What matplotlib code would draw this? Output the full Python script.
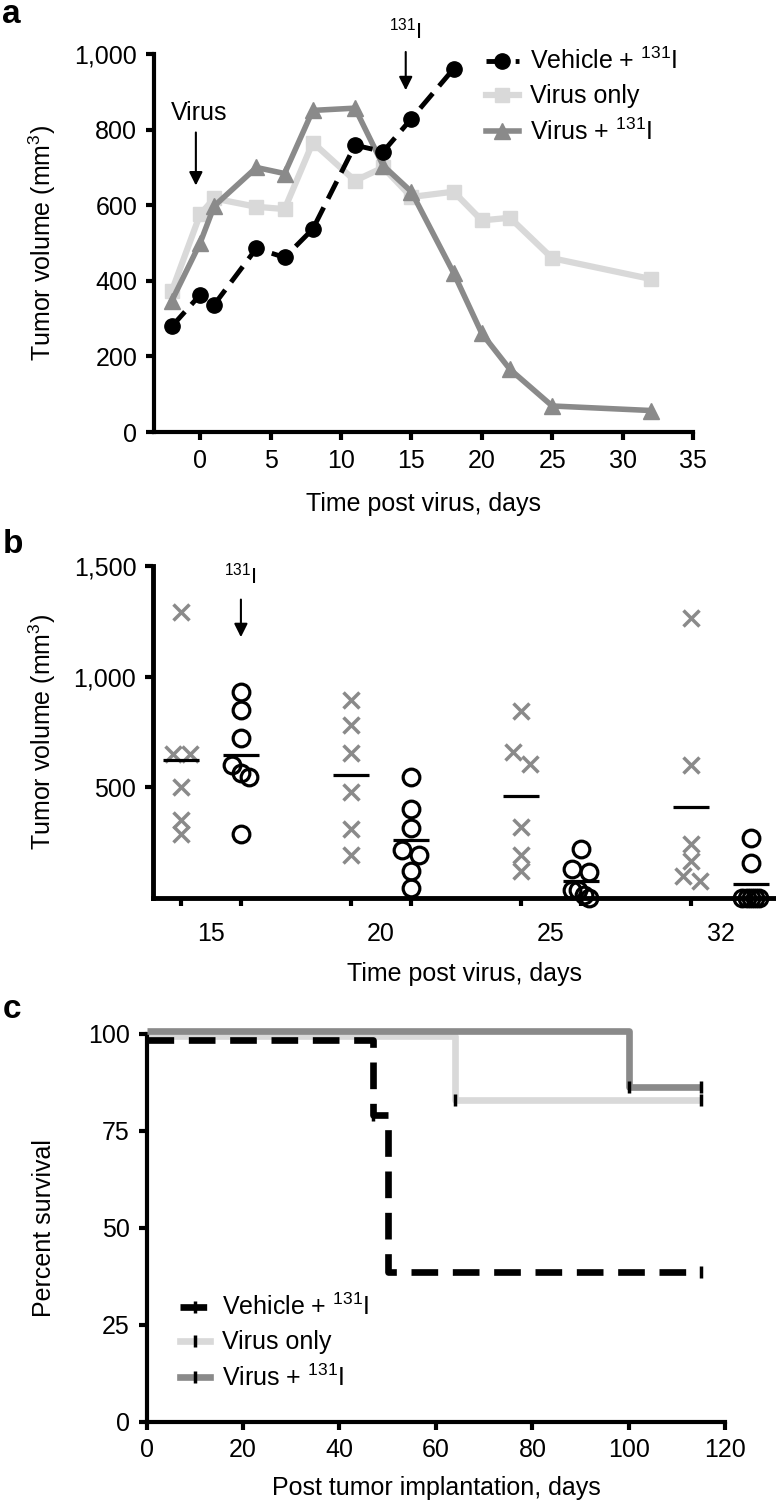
import numpy as np
import matplotlib
matplotlib.use('Agg')
import matplotlib.pyplot as plt
from matplotlib.ticker import FuncFormatter
from matplotlib.lines import Line2D

plt.rcParams['font.family'] = ['Liberation Sans', 'DejaVu Sans']
plt.rcParams['mathtext.fontset'] = 'custom'
plt.rcParams['mathtext.rm'] = 'Liberation Sans'
plt.rcParams['mathtext.it'] = 'Liberation Sans:italic'
plt.rcParams['font.size'] = 18

# ---- panel a: mean tumour volume over time
days_a = [-2, 0, 1, 4, 6, 8, 11, 13, 15, 18, 20, 22, 25, 32]
vehicle_a = [280, 363, 337, 486, 462, 537, 759, 742, 829, 961]
virus_only_a = [374, 576, 618, 596, 590, 766, 665, 700, 622, 636, 560, 567, 460, 405]
virus_i131_a = [348, 500, 598, 700, 684, 851, 857, 705, 636, 421, 261, 166, 69, 57]

# ---- panel b: individual tumours
days_b = ['15', '20', '25', '32']
virus_only_b = [[1291, 649, 649, 500, 351, 291],
                [896, 781, 657, 481, 313, 194],
                [845, 661, 606, 321, 196, 124],
                [1266, 599, 243, 169, 101, 79]]
virus_i131_b = [[933, 848, 724, 600, 567, 545, 291],
                [545, 400, 316, 216, 194, 124, 45],
                [221, 131, 116, 34, 34, 12, 0],
                [270, 160, 0, 0, 0, 0, 0]]

# ---- panel c: survival
vehicle_t = [0, 47, 50, 115]
vehicle_p = [98.5, 79.0, 38.6, 38.6]
vehicle_cens = [47, 115]
virus_only_t = [0, 64, 115]
virus_only_p = [99.6, 83.0, 83.0]
virus_only_cens = [64, 115]
virus_i131_t = [0, 100, 115]
virus_i131_p = [100.8, 86.2, 86.2]
virus_i131_cens = [100, 115]

BLACK = 'black'
LIGHT = '#d9d9d9'
MID = '#8a8a8a'
I131 = '$^{131}$I'


def style_axes(ax):
    for s in ['top', 'right']:
        ax.spines[s].set_visible(False)
    for s in ['left', 'bottom']:
        ax.spines[s].set_linewidth(3)
    ax.tick_params(direction='out', length=6, width=3, labelsize=18, pad=6)


def spread(vals, ygap=60, maxw=0.05):
    # group close values and fan them out a little around the column
    order = np.argsort(vals)[::-1]
    offs = np.zeros(len(vals))
    groups = [[order[0]]]
    for j in order[1:]:
        if abs(vals[groups[-1][-1]] - vals[j]) < ygap:
            groups[-1].append(j)
        else:
            groups.append([j])
    for g in groups:
        if len(g) > 1:
            for k, j in enumerate(g):
                offs[j] = np.linspace(-maxw, maxw, len(g))[k]
    return offs


def level_at(t, p, x):
    idx = np.searchsorted(t, x, side='right') - 1
    return p[idx]


fig = plt.figure(figsize=(7.76, 15.07), dpi=100)

# ================= a =================
ax1 = fig.add_axes([0.1985, 0.7133, 0.6946, 0.2508])
style_axes(ax1)
ax1.plot(days_a, virus_only_a, color=LIGHT, lw=4.5, marker='s', ms=10,
         label='Virus only', clip_on=False, zorder=2)
ax1.plot(days_a, virus_i131_a, color=MID, lw=4, marker='^', ms=11,
         label='Virus + ' + I131, clip_on=False, zorder=3)
ax1.plot(days_a[:len(vehicle_a)], vehicle_a, color=BLACK, lw=3.5, ls=(0, (4, 2)),
         marker='o', ms=11, label='Vehicle + ' + I131, clip_on=False, zorder=4)
ax1.set_xlim(-3.27, 35)
ax1.set_ylim(0, 1000)
ax1.set_xticks(range(0, 36, 5))
ax1.set_yticks(range(0, 1001, 200))
ax1.yaxis.set_major_formatter(FuncFormatter(lambda v, p: f'{int(v):,}'))
ax1.set_xlabel('Time post virus, days', labelpad=14)
ax1.set_ylabel('Tumor volume (mm$^3$)')
ax1.yaxis.set_label_coords(-0.178, 0.5)

ax1.annotate('', xy=(-0.3, 645), xytext=(-0.3, 800),
             arrowprops=dict(arrowstyle='-|>', color=BLACK, lw=1.5, mutation_scale=20))
ax1.text(-0.1, 844, 'Virus', ha='center', va='center', fontsize=18)
ax1.annotate('', xy=(14.6, 897), xytext=(14.6, 1013),
             arrowprops=dict(arrowstyle='-|>', color=BLACK, lw=1.5, mutation_scale=20),
             annotation_clip=False)
ax1.text(14.6, 1063, I131, ha='center', va='center', fontsize=16)

h, l = ax1.get_legend_handles_labels()
ax1.legend([h[2], h[0], h[1]], [l[2], l[0], l[1]], loc='upper left',
           bbox_to_anchor=(486 / 776, 1 - 48 / 1507), bbox_transform=fig.transFigure,
           frameon=False, borderpad=0, borderaxespad=0, handlelength=1.3,
           handletextpad=0.45, labelspacing=0.4, numpoints=1, fontsize=18)

# ================= b =================
ax2 = fig.add_axes([0.1972, 0.4041, 0.8015, 0.2203])
style_axes(ax2)
ax2.spines['left'].set_linewidth(3.5)
ax2.spines['bottom'].set_linewidth(3.5)
dx = 0.176
for i in range(len(days_b)):
    xs = np.array(virus_only_b[i])
    cs = np.array(virus_i131_b[i])
    ax2.plot(i - dx + spread(xs), xs, ls='none', marker='x', ms=12, mew=2.5,
             color=MID, clip_on=False, zorder=3)
    ax2.hlines(xs.mean(), i - dx - 0.105, i - dx + 0.105, color=BLACK, lw=2.3, zorder=4)
    ax2.plot(i + dx + spread(cs), cs, ls='none', marker='o', ms=12, mew=2.3,
             mfc='none', mec=BLACK, clip_on=False, zorder=3)
    ax2.hlines(cs.mean(), i + dx - 0.105, i + dx + 0.105, color=BLACK, lw=2.3, zorder=4)
ax2.set_xlim(-0.341, 3.318)
ax2.set_ylim(0, 1500)
ticks_b = [i + s for i in range(len(days_b)) for s in (-dx, dx)]
ax2.set_xticks(ticks_b)
ax2.set_xticklabels([])
ax2.set_xticks(range(len(days_b)), minor=True)
ax2.set_xticklabels(days_b, minor=True)
ax2.tick_params(axis='x', which='minor', length=0, pad=17, labelsize=18)
ax2.set_yticks([500, 1000, 1500])
ax2.yaxis.set_major_formatter(FuncFormatter(lambda v, p: f'{int(v):,}'))
ax2.set_xlabel('Time post virus, days', labelpad=12)
ax2.set_ylabel('Tumor volume (mm$^3$)')
ax2.yaxis.set_label_coords(-0.152, 0.5)
ax2.annotate('', xy=(dx, 1166), xytext=(dx, 1361),
             arrowprops=dict(arrowstyle='-|>', color=BLACK, lw=1.5, mutation_scale=20))
ax2.text(dx, 1455, I131, ha='center', va='center', fontsize=16)

# ================= c =================
ax3 = fig.add_axes([0.1888, 0.0566, 0.746, 0.2573])
style_axes(ax3)
curves = [
    (vehicle_t, vehicle_p, vehicle_cens, BLACK, (0, (4, 2.2)), 'Vehicle + ' + I131, 4),
    (virus_only_t, virus_only_p, virus_only_cens, LIGHT, '-', 'Virus only', 2),
    (virus_i131_t, virus_i131_p, virus_i131_cens, MID, '-', 'Virus + ' + I131, 3),
]
handles = []
for t, p, cens, col, ls, lab, z in curves:
    ax3.step(t, p, where='post', color=col, lw=4.8, ls=ls, clip_on=False, zorder=z,
             solid_capstyle='butt', dash_capstyle='butt')
    cy = [level_at(t, p, c) for c in cens]
    ax3.plot(cens, cy, ls='none', marker='|', ms=8, mew=2.5, color=BLACK,
             clip_on=False, zorder=5)
    handles.append(Line2D([], [], color=col, lw=4.8, ls=ls, marker='|', ms=8, mew=2.5,
                          mec=BLACK, label=lab))
ax3.set_xlim(0, 120)
ax3.set_ylim(0, 100)
ax3.set_xticks(range(0, 121, 20))
ax3.set_yticks([0, 25, 50, 75, 100])
ax3.set_xlabel('Post tumor implantation, days', labelpad=10)
ax3.set_ylabel('Percent survival')
ax3.yaxis.set_label_coords(-0.156, 0.5)
ax3.legend(handles=handles, loc='upper left',
           bbox_to_anchor=(180 / 776, 1 - 1294 / 1507), bbox_transform=fig.transFigure,
           frameon=False, borderpad=0, borderaxespad=0, handlelength=1.2,
           handletextpad=0.5, labelspacing=0.4, numpoints=1, fontsize=18)

# panel letters
fig.text(0.003, 1 - 23 / 1507, 'a', fontsize=24, fontweight='bold', va='baseline')
fig.text(0.003, 1 - 553 / 1507, 'b', fontsize=24, fontweight='bold', va='baseline')
fig.text(0.003, 1 - 1018 / 1507, 'c', fontsize=24, fontweight='bold', va='baseline')

fig.savefig('out.png', dpi=100)
